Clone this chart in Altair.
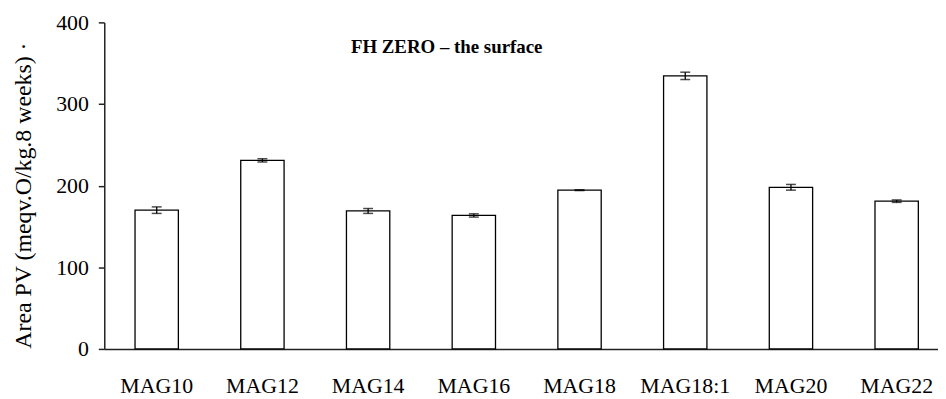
import altair as alt
import pandas as pd

categories = ["MAG10", "MAG12", "MAG14", "MAG16", "MAG18", "MAG18:1", "MAG20", "MAG22"]
values = [170, 231, 169, 163.5, 194.5, 334.5, 198, 181]
errors = [4, 2, 3, 2, 0.5, 4.5, 3.5, 1.5]
y_ticks = [0, 100, 200, 300, 400]
title_text = "FH ZERO \u2013 the surface"
y_title = "Area PV (meqv.O/kg.8 weeks) \u00b7"

df = pd.DataFrame({
    "cat": categories,
    "val": values,
    "lo": [v - e for v, e in zip(values, errors)],
    "hi": [v + e for v, e in zip(values, errors)],
})

FONT = "Liberation Serif"

xscale = alt.Scale(domain=categories, paddingInner=0.59, paddingOuter=0.2385, align=0.61)
yscale = alt.Scale(domain=[0, 400], nice=False)

x = alt.X("cat:N", scale=xscale, sort=categories,
          axis=alt.Axis(title=None, labelAngle=0, ticks=False, labelPadding=27,
                        labelFontSize=22, labelFont=FONT, labelColor="black",
                        domainColor="#222", domainWidth=1.5))

bars = alt.Chart(df).mark_bar(fill="white", stroke="black", strokeWidth=1.3).encode(
    x=x,
    y=alt.Y("val:Q", scale=yscale,
            axis=alt.Axis(values=y_ticks, title=y_title, titleFont=FONT, titleFontSize=24,
                          titleFontWeight="normal", titleColor="black", titlePadding=20,
                          titleY=174,
                          labelFont=FONT, labelFontSize=22, labelColor="black",
                          labelPadding=10, tickSize=6, tickColor="#222", tickWidth=1.5,
                          domainColor="#222", domainWidth=1.5, grid=False)),
)

rule = alt.Chart(df).mark_rule(color="black", strokeWidth=1.3).encode(
    x=alt.X("cat:N", scale=xscale, sort=categories),
    y=alt.Y("lo:Q", scale=yscale),
    y2="hi:Q",
)
cap_lo = alt.Chart(df).mark_tick(color="black", thickness=1.5, size=10, orient="horizontal").encode(
    x=alt.X("cat:N", scale=xscale, sort=categories),
    y=alt.Y("lo:Q", scale=yscale),
)
cap_hi = alt.Chart(df).mark_tick(color="black", thickness=1.5, size=10, orient="horizontal").encode(
    x=alt.X("cat:N", scale=xscale, sort=categories),
    y=alt.Y("hi:Q", scale=yscale),
)

title = alt.Chart(pd.DataFrame({"t": [title_text]})).mark_text(
    font=FONT, fontSize=19, fontWeight="bold", color="black", align="center", baseline="middle"
).encode(x=alt.value(345), y=alt.value(25), text="t:N")

chart = alt.layer(bars, rule, cap_lo, cap_hi, title).properties(
    width=840, height=329,
    autosize=alt.AutoSizeParams(type="none"),
    padding={"left": 97, "top": 13, "right": 0, "bottom": 55},
).configure_view(stroke=None)

chart.save("out.html", embed_options={"renderer": "svg", "actions": False})
